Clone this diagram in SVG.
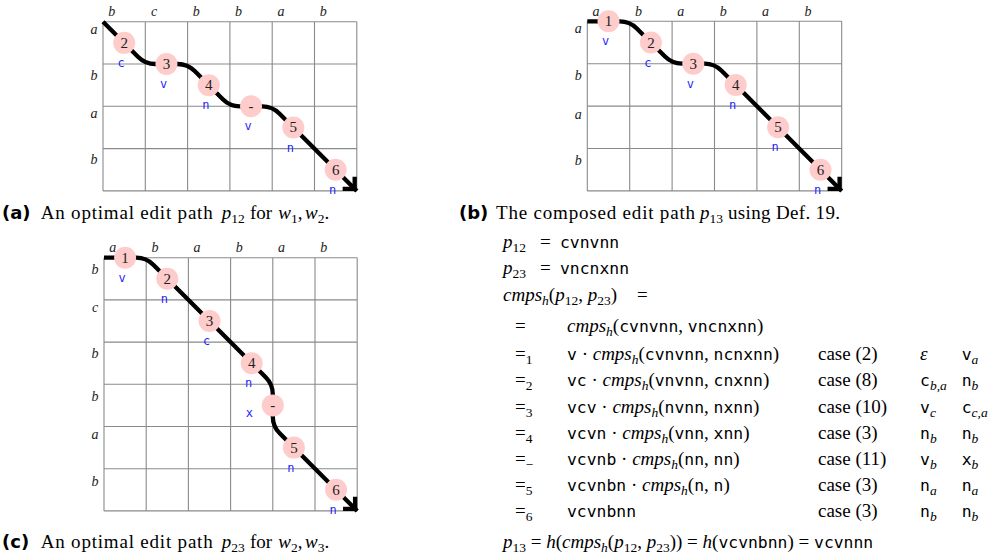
<svg xmlns="http://www.w3.org/2000/svg" width="997" height="560" viewBox="0 0 997 560">
<style>
.grid{fill:none;stroke:#8a8a8a;stroke-width:1.1}
.ax{font-family:"Liberation Serif",serif;font-style:italic;font-size:14px;fill:#222;text-anchor:middle}
.edge{fill:none;stroke:#000;stroke-width:4.3;stroke-linejoin:round}
.nd circle{fill:#ffcccc}
.num{font-family:"Liberation Serif",serif;font-size:15px;fill:#222;text-anchor:middle}
.lbl{font-family:"DejaVu Sans Mono",monospace;font-size:12px;fill:#1f1fff;text-anchor:middle}
.t{font-family:"Liberation Serif",serif;font-size:19px;fill:#000}
.i{font-style:italic}
.tt{font-family:"DejaVu Sans Mono",monospace;font-size:16.4px}
.s{font-size:13.5px}
.bf{font-family:"DejaVu Sans",sans-serif;font-weight:bold;font-size:18px}
</style>
<defs>
<marker id="arr" markerUnits="userSpaceOnUse" markerWidth="30" markerHeight="30" viewBox="-15 -15 30 30" refX="0" refY="0" orient="auto" overflow="visible">
<path d="M-11.5,-8.5 L-3,0 L-11.5,8.5" fill="none" stroke="#000" stroke-width="4.3" stroke-linejoin="miter"/>
</marker>
</defs>

<!-- grids -->
<g id="grid-a">
<path class="grid" d="M103,21.7V190.9M145.3,21.7V190.9M187.6,21.7V190.9M229.9,21.7V190.9M272.2,21.7V190.9M314.5,21.7V190.9M356.8,21.7V190.9M103,21.7H356.8M103,64H356.8M103,106.3H356.8M103,148.6H356.8M103,190.9H356.8"/>
<text class="ax" y="15.7"><tspan x="111.7">b</tspan><tspan x="154">c</tspan><tspan x="196.3">b</tspan><tspan x="238.6">b</tspan><tspan x="280.9">a</tspan><tspan x="323.2">b</tspan></text>
<text class="ax" x="94" y="33.5">a</text>
<text class="ax" x="94" y="80">b</text>
<text class="ax" x="94" y="118.3">a</text>
<text class="ax" x="94" y="164.3">b</text>
</g>
<g id="grid-b">
<path class="grid" d="M587.3,21.3V190.9M629.7,21.3V190.9M672.1,21.3V190.9M714.5,21.3V190.9M756.9,21.3V190.9M799.3,21.3V190.9M841.7,21.3V190.9M587.3,21.3H841.7M587.3,63.7H841.7M587.3,106.1H841.7M587.3,148.5H841.7M587.3,190.9H841.7"/>
<text class="ax" y="16"><tspan x="596">a</tspan><tspan x="638.4">b</tspan><tspan x="680.8">a</tspan><tspan x="723.2">b</tspan><tspan x="765.6">a</tspan><tspan x="808">b</tspan></text>
<text class="ax" x="578.3" y="33.3">a</text>
<text class="ax" x="578.3" y="80">b</text>
<text class="ax" x="578.3" y="118.7">a</text>
<text class="ax" x="578.3" y="164.5">b</text>
</g>
<g id="grid-c">
<path class="grid" d="M104,257.7V510.9M146.2,257.7V510.9M188.4,257.7V510.9M230.6,257.7V510.9M272.8,257.7V510.9M315,257.7V510.9M357.2,257.7V510.9M104,257.7H357.2M104,299.9H357.2M104,342.1H357.2M104,384.3H357.2M104,426.5H357.2M104,468.7H357.2M104,510.9H357.2"/>
<text class="ax" y="252.3"><tspan x="112.7">a</tspan><tspan x="154.9">b</tspan><tspan x="197.1">a</tspan><tspan x="239.3">b</tspan><tspan x="281.5">a</tspan><tspan x="323.7">b</tspan></text>
<text class="ax" x="95" y="273.5">b</text>
<text class="ax" x="95" y="312.3">c</text>
<text class="ax" x="95" y="358.3">b</text>
<text class="ax" x="95" y="400.7">b</text>
<text class="ax" x="95" y="439">a</text>
<text class="ax" x="95" y="485.7">b</text>
</g>

<!-- connectors -->
<g id="connectors">
<path id="path-p12" class="edge" marker-end="url(#arr)" d="M103,21.7 L138.2,56.9 Q145.3,64 155.3,64 L177.6,64 Q187.6,64 194.7,71.1 L222.8,99.2 Q229.9,106.3 239.9,106.3 L262.2,106.3 Q272.2,106.3 279.3,113.4 L356.8,190.9"/>
<path id="path-p13" class="edge" marker-end="url(#arr)" d="M587.3,21.3 L619.7,21.3 Q629.7,21.3 636.8,28.4 L665,56.6 Q672.1,63.7 682.1,63.7 L704.5,63.7 Q714.5,63.7 721.6,70.8 L841.7,190.9"/>
<path id="path-p23" class="edge" marker-end="url(#arr)" d="M104,257.7 L136.2,257.7 Q146.2,257.7 153.3,264.8 L265.7,377.2 Q272.8,384.3 272.8,394.3 L272.8,416.5 Q272.8,426.5 279.9,433.6 L357.2,510.9"/>
</g>

<!-- nodes panel a -->
<g id="a-n2" class="nd"><circle cx="124.2" cy="42.85" r="11"/><text class="num" x="124.2" y="47.85">2</text><text class="lbl" x="121.2" y="66.9">c</text></g>
<g id="a-n3" class="nd"><circle cx="166.45" cy="64" r="11"/><text class="num" x="166.45" y="69">3</text><text class="lbl" x="163.5" y="88">v</text></g>
<g id="a-n4" class="nd"><circle cx="208.75" cy="85.15" r="11"/><text class="num" x="208.75" y="90.15">4</text><text class="lbl" x="205.75" y="109.2">n</text></g>
<g id="a-nm" class="nd"><circle cx="251.05" cy="106.3" r="11"/><text class="num" x="251.05" y="111.3">-</text><text class="lbl" x="248" y="130.3">v</text></g>
<g id="a-n5" class="nd"><circle cx="293.35" cy="127.45" r="11"/><text class="num" x="293.35" y="132.45">5</text><text class="lbl" x="290.35" y="151.5">n</text></g>
<g id="a-n6" class="nd"><circle cx="335.65" cy="169.75" r="11"/><text class="num" x="335.65" y="174.75">6</text><text class="lbl" x="332.65" y="193.8">n</text></g>

<!-- nodes panel b -->
<g id="b-n1" class="nd"><circle cx="608.5" cy="21.3" r="11"/><text class="num" x="608.5" y="26.3">1</text><text class="lbl" x="605.5" y="45.3">v</text></g>
<g id="b-n2" class="nd"><circle cx="650.9" cy="42.5" r="11"/><text class="num" x="650.9" y="47.5">2</text><text class="lbl" x="647.9" y="66.5">c</text></g>
<g id="b-n3" class="nd"><circle cx="693.3" cy="63.7" r="11"/><text class="num" x="693.3" y="68.7">3</text><text class="lbl" x="690.3" y="87.7">v</text></g>
<g id="b-n4" class="nd"><circle cx="735.7" cy="84.9" r="11"/><text class="num" x="735.7" y="89.9">4</text><text class="lbl" x="732.7" y="108.9">n</text></g>
<g id="b-n5" class="nd"><circle cx="778.1" cy="127.3" r="11"/><text class="num" x="778.1" y="132.3">5</text><text class="lbl" x="775.1" y="151.3">n</text></g>
<g id="b-n6" class="nd"><circle cx="820.5" cy="169.7" r="11"/><text class="num" x="820.5" y="174.7">6</text><text class="lbl" x="817.5" y="193.7">n</text></g>

<!-- nodes panel c -->
<g id="c-n1" class="nd"><circle cx="125.1" cy="257.7" r="11"/><text class="num" x="125.1" y="262.7">1</text><text class="lbl" x="122.1" y="281.7">v</text></g>
<g id="c-n2" class="nd"><circle cx="167.3" cy="278.8" r="11"/><text class="num" x="167.3" y="283.8">2</text><text class="lbl" x="164.3" y="302.8">n</text></g>
<g id="c-n3" class="nd"><circle cx="209.5" cy="321" r="11"/><text class="num" x="209.5" y="326">3</text><text class="lbl" x="206.5" y="345">c</text></g>
<g id="c-n4" class="nd"><circle cx="251.7" cy="363.2" r="11"/><text class="num" x="251.7" y="368.2">4</text><text class="lbl" x="248.7" y="387.2">n</text></g>
<g id="c-nm" class="nd"><circle cx="272.8" cy="405.4" r="11"/><text class="num" x="272.8" y="410.4">-</text><text class="lbl" x="249.3" y="416.6">x</text></g>
<g id="c-n5" class="nd"><circle cx="293.9" cy="447.6" r="11"/><text class="num" x="293.9" y="452.6">5</text><text class="lbl" x="290.9" y="471.6">n</text></g>
<g id="c-n6" class="nd"><circle cx="336.1" cy="489.8" r="11"/><text class="num" x="336.1" y="494.8">6</text><text class="lbl" x="333.1" y="513.8">n</text></g>

<!-- captions -->
<g id="captions">
<text class="t" y="219"><tspan x="2" class="bf">(a)</tspan><tspan x="40.7" textLength="172" lengthAdjust="spacing">An optimal edit path</tspan><tspan x="221.7" class="i">p</tspan><tspan class="s" dy="4">12</tspan><tspan x="250" dy="-4">for</tspan><tspan x="278.3" class="i">w</tspan><tspan class="s" dy="4">1</tspan><tspan dy="-4">,</tspan><tspan x="305" class="i">w</tspan><tspan class="s" dy="4">2</tspan><tspan dy="-4">.</tspan></text>
<text class="t" y="219"><tspan x="459" class="bf">(b)</tspan><tspan x="496" textLength="199" lengthAdjust="spacing">The composed edit path</tspan><tspan x="700" class="i">p</tspan><tspan class="s" dy="4">13</tspan><tspan x="728" dy="-4" textLength="112" lengthAdjust="spacing">using Def. 19.</tspan></text>
<text class="t" y="548"><tspan x="2" class="bf">(c)</tspan><tspan x="40.7" textLength="172" lengthAdjust="spacing">An optimal edit path</tspan><tspan x="221.7" class="i">p</tspan><tspan class="s" dy="4">23</tspan><tspan x="250" dy="-4">for</tspan><tspan x="278.3" class="i">w</tspan><tspan class="s" dy="4">2</tspan><tspan dy="-4">,</tspan><tspan x="305" class="i">w</tspan><tspan class="s" dy="4">3</tspan><tspan dy="-4">.</tspan></text>
</g>

<!-- derivation -->
<g id="derivation">
<text class="t" y="248"><tspan x="503" class="i">p</tspan><tspan class="s" dy="4">12</tspan><tspan x="540" dy="-4">=</tspan><tspan x="560" class="tt">cvnvnn</tspan></text>
<text class="t" y="274"><tspan x="503" class="i">p</tspan><tspan class="s" dy="4">23</tspan><tspan x="540" dy="-4">=</tspan><tspan x="560" class="tt">vncnxnn</tspan></text>
<text class="t" y="301"><tspan x="503" class="i">cmps</tspan><tspan class="s i" dy="4">h</tspan><tspan dy="-4">(</tspan><tspan class="i">p</tspan><tspan class="s" dy="4">12</tspan><tspan dy="-4">, </tspan><tspan class="i">p</tspan><tspan class="s" dy="4">23</tspan><tspan dy="-4">)</tspan><tspan x="637">=</tspan></text>

<text class="t" y="332"><tspan x="515">=</tspan><tspan x="567" class="i">cmps</tspan><tspan class="s i" dy="4">h</tspan><tspan dy="-4">(</tspan><tspan class="tt">cvnvnn</tspan><tspan>, </tspan><tspan class="tt">vncnxnn</tspan><tspan>)</tspan></text>

<text class="t" y="360"><tspan x="515">=</tspan><tspan class="s" dy="4">1</tspan><tspan x="567" dy="-4" class="tt">v</tspan><tspan> · </tspan><tspan class="i">cmps</tspan><tspan class="s i" dy="4">h</tspan><tspan dy="-4">(</tspan><tspan class="tt">cvnvnn</tspan><tspan>, </tspan><tspan class="tt">ncnxnn</tspan><tspan>)</tspan><tspan x="818">case (2)</tspan><tspan x="920" class="i">ε</tspan><tspan x="961.7" class="tt">v</tspan><tspan class="s i" dy="4">a</tspan></text>

<text class="t" y="386"><tspan x="515">=</tspan><tspan class="s" dy="4">2</tspan><tspan x="567" dy="-4" class="tt">vc</tspan><tspan> · </tspan><tspan class="i">cmps</tspan><tspan class="s i" dy="4">h</tspan><tspan dy="-4">(</tspan><tspan class="tt">vnvnn</tspan><tspan>, </tspan><tspan class="tt">cnxnn</tspan><tspan>)</tspan><tspan x="818">case (8)</tspan><tspan x="920" class="tt">c</tspan><tspan class="s i" dy="4">b,a</tspan><tspan x="961.7" dy="-4" class="tt">n</tspan><tspan class="s i" dy="4">b</tspan></text>

<text class="t" y="413"><tspan x="515">=</tspan><tspan class="s" dy="4">3</tspan><tspan x="567" dy="-4" class="tt">vcv</tspan><tspan> · </tspan><tspan class="i">cmps</tspan><tspan class="s i" dy="4">h</tspan><tspan dy="-4">(</tspan><tspan class="tt">nvnn</tspan><tspan>, </tspan><tspan class="tt">nxnn</tspan><tspan>)</tspan><tspan x="818">case (10)</tspan><tspan x="920" class="tt">v</tspan><tspan class="s i" dy="4">c</tspan><tspan x="961.7" dy="-4" class="tt">c</tspan><tspan class="s i" dy="4">c,a</tspan></text>

<text class="t" y="439"><tspan x="515">=</tspan><tspan class="s" dy="4">4</tspan><tspan x="567" dy="-4" class="tt">vcvn</tspan><tspan> · </tspan><tspan class="i">cmps</tspan><tspan class="s i" dy="4">h</tspan><tspan dy="-4">(</tspan><tspan class="tt">vnn</tspan><tspan>, </tspan><tspan class="tt">xnn</tspan><tspan>)</tspan><tspan x="818">case (3)</tspan><tspan x="920" class="tt">n</tspan><tspan class="s i" dy="4">b</tspan><tspan x="961.7" dy="-4" class="tt">n</tspan><tspan class="s i" dy="4">b</tspan></text>

<text class="t" y="465"><tspan x="515">=</tspan><tspan class="s" dy="4">−</tspan><tspan x="567" dy="-4" class="tt">vcvnb</tspan><tspan> · </tspan><tspan class="i">cmps</tspan><tspan class="s i" dy="4">h</tspan><tspan dy="-4">(</tspan><tspan class="tt">nn</tspan><tspan>, </tspan><tspan class="tt">nn</tspan><tspan>)</tspan><tspan x="818">case (11)</tspan><tspan x="920" class="tt">v</tspan><tspan class="s i" dy="4">b</tspan><tspan x="961.7" dy="-4" class="tt">x</tspan><tspan class="s i" dy="4">b</tspan></text>

<text class="t" y="491"><tspan x="515">=</tspan><tspan class="s" dy="4">5</tspan><tspan x="567" dy="-4" class="tt">vcvnbn</tspan><tspan> · </tspan><tspan class="i">cmps</tspan><tspan class="s i" dy="4">h</tspan><tspan dy="-4">(</tspan><tspan class="tt">n</tspan><tspan>, </tspan><tspan class="tt">n</tspan><tspan>)</tspan><tspan x="818">case (3)</tspan><tspan x="920" class="tt">n</tspan><tspan class="s i" dy="4">a</tspan><tspan x="961.7" dy="-4" class="tt">n</tspan><tspan class="s i" dy="4">a</tspan></text>

<text class="t" y="517"><tspan x="515">=</tspan><tspan class="s" dy="4">6</tspan><tspan x="567" dy="-4" class="tt">vcvnbnn</tspan><tspan x="818">case (3)</tspan><tspan x="920" class="tt">n</tspan><tspan class="s i" dy="4">b</tspan><tspan x="961.7" dy="-4" class="tt">n</tspan><tspan class="s i" dy="4">b</tspan></text>

<text class="t" y="548"><tspan x="503" class="i">p</tspan><tspan class="s" dy="4">13</tspan><tspan dy="-4"> = </tspan><tspan class="i">h</tspan><tspan>(</tspan><tspan class="i">cmps</tspan><tspan class="s i" dy="4">h</tspan><tspan dy="-4">(</tspan><tspan class="i">p</tspan><tspan class="s" dy="4">12</tspan><tspan dy="-4">, </tspan><tspan class="i">p</tspan><tspan class="s" dy="4">23</tspan><tspan dy="-4">)) = </tspan><tspan class="i">h</tspan><tspan>(</tspan><tspan class="tt">vcvnbnn</tspan><tspan>) = </tspan><tspan class="tt">vcvnnn</tspan></text>
</g>
</svg>
